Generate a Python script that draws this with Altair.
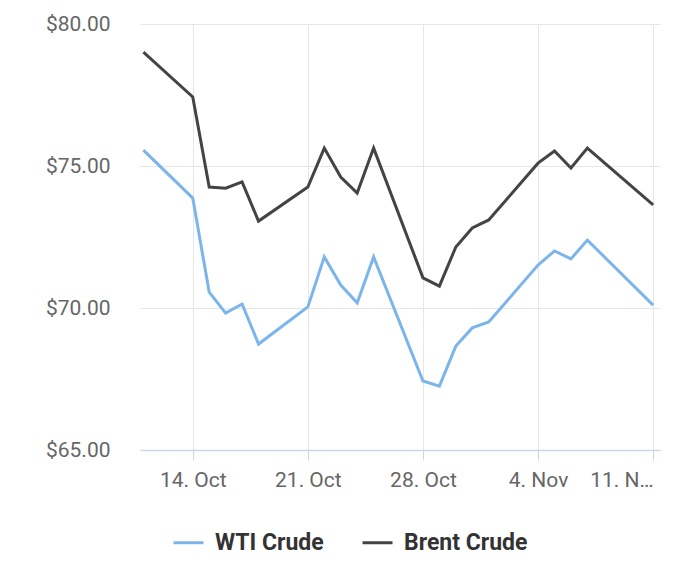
import pandas as pd
import altair as alt

# Daily closing prices (trading days only)
dates = [
    "2019-10-11", "2019-10-14", "2019-10-15", "2019-10-16", "2019-10-17",
    "2019-10-18", "2019-10-21", "2019-10-22", "2019-10-23", "2019-10-24",
    "2019-10-25", "2019-10-28", "2019-10-29", "2019-10-30", "2019-10-31",
    "2019-11-01", "2019-11-04", "2019-11-05", "2019-11-06", "2019-11-07",
    "2019-11-11",
]
wti = [75.56, 73.87, 70.56, 69.82, 70.14, 68.73, 70.04, 71.80, 70.81, 70.18,
       71.80, 67.43, 67.25, 68.66, 69.30, 69.51, 71.51, 72.01, 71.73, 72.39,
       70.10]
brent = [79.01, 77.43, 74.26, 74.22, 74.44, 73.06, 74.26, 75.63, 74.61, 74.05,
         75.63, 71.06, 70.77, 72.15, 72.82, 73.10, 75.10, 75.53, 74.93, 75.63,
         73.63]

series = ["WTI Crude", "Brent Crude"]
colors = ["#7cb5ec", "#434348"]
y_ticks = [65, 70, 75, 80]

df = pd.concat([
    pd.DataFrame({"date": dates, "price": wti, "series": "WTI Crude"}),
    pd.DataFrame({"date": dates, "price": brent, "series": "Brent Crude"}),
])

x_ticks = [
    alt.DateTime(year=2019, month=10, date=14, utc=True),
    alt.DateTime(year=2019, month=10, date=21, utc=True),
    alt.DateTime(year=2019, month=10, date=28, utc=True),
    alt.DateTime(year=2019, month=11, date=4, utc=True),
    alt.DateTime(year=2019, month=11, date=11, utc=True),
]
x_domain = [
    alt.DateTime(year=2019, month=10, date=10, hours=19, utc=True),
    alt.DateTime(year=2019, month=11, date=11, hours=10, utc=True),
]

# last label gets cut off like in the original
x_label = ("utcFormat(datum.value, '%-d. %b') == '11. Nov' ? '11. N…' "
           ": utcFormat(datum.value, '%-d. %b')")

chart = alt.Chart(df).mark_line(strokeWidth=3).encode(
    x=alt.X("date:T",
            title=None,
            scale=alt.Scale(type="utc", domain=x_domain),
            axis=alt.Axis(values=x_ticks, labelExpr=x_label,
                          labelFlush=10, labelPadding=9,
                          tickSize=10, tickColor="#ccd6eb",
                          domainColor="#ccd6eb", domainWidth=1.5,
                          gridColor="#e6e6e6", grid=True)),
    y=alt.Y("price:Q",
            title=None,
            scale=alt.Scale(domain=[65, 80], nice=False, zero=False),
            axis=alt.Axis(values=y_ticks, format="$.2f", domain=False,
                          ticks=False, labelPadding=30,
                          gridColor="#e6e6e6")),
    color=alt.Color("series:N",
                    scale=alt.Scale(domain=series, range=colors),
                    legend=alt.Legend(title=None, orient="none",
                                      direction="horizontal",
                                      legendX=32, legendY=502,
                                      symbolType="stroke", symbolSize=900,
                                      symbolStrokeWidth=3, labelOffset=10,
                                      columnPadding=32)),
    order="date:T",
).properties(
    width=520,
    height=426,
    autosize=alt.AutoSizeParams(type="none"),
    padding={"left": 132, "top": 16, "right": 20, "bottom": 115},
).configure_view(
    stroke=None
).configure_axis(
    labelFont="Roboto",
    labelFontSize=21,
    labelColor="#666666",
).configure_legend(
    labelFont="Roboto",
    labelFontSize=23,
    labelFontWeight="bold",
    labelColor="#333333",
)

chart.save("out.html", embed_options={"renderer": "svg", "actions": False})
